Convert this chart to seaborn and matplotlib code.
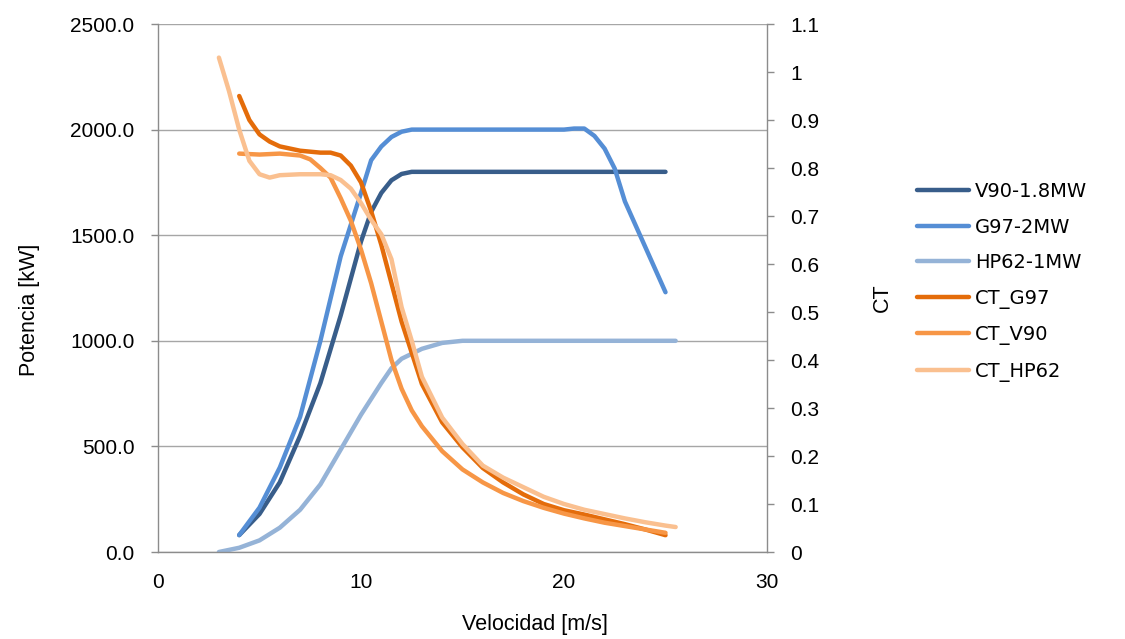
import numpy as np
import pandas as pd
import matplotlib
matplotlib.use("Agg")
import matplotlib.pyplot as plt
import seaborn as sns

# DATA
v90_speed = [4, 5, 6, 7, 8, 9, 10, 10.5, 11, 11.5, 12, 12.5, 13, 14, 15, 16, 17, 18, 19, 20, 21, 22, 23,
             24, 25]
v90_power = [80, 180, 330, 550, 800, 1120, 1470, 1610, 1700, 1760, 1790, 1800, 1800, 1800, 1800, 1800,
             1800, 1800, 1800, 1800, 1800, 1800, 1800, 1800, 1800]

g97_speed = [4, 5, 6, 7, 8, 9, 10, 10.5, 11, 11.5, 12, 12.5, 13, 14, 15, 16, 17, 18, 19, 20, 20.5, 21,
             21.5, 22, 22.5, 23, 24, 25]
g97_power = [80, 210, 400, 640, 1000, 1400, 1700, 1855, 1920, 1965, 1990, 2000, 2000, 2000, 2000, 2000,
             2000, 2000, 2000, 2000, 2005, 2005, 1970, 1910, 1815, 1660, 1445, 1230]

hp62_speed = [3, 4, 5, 6, 7, 8, 9, 10, 11, 11.5, 12, 13, 14, 15, 16, 17, 18, 19, 20, 21, 22, 23, 24,
              25, 25.5]
hp62_power = [0, 20, 55, 115, 200, 320, 485, 650, 800, 870, 915, 962, 990, 1000, 1000, 1000, 1000,
              1000, 1000, 1000, 1000, 1000, 1000, 1000, 1000]

ct_g97_speed = [4, 4.5, 5, 5.5, 6, 7, 8, 8.5, 9, 9.5, 10, 10.5, 11, 11.5, 12, 12.5, 13, 14, 15, 16, 17,
                18, 19, 20, 21, 22, 23, 24, 25]
ct_g97 = [0.95, 0.90, 0.87, 0.855, 0.845, 0.836, 0.832, 0.832, 0.826, 0.805, 0.77, 0.71, 0.64, 0.56,
          0.48, 0.415, 0.35, 0.27, 0.218, 0.175, 0.145, 0.12, 0.10, 0.087, 0.078, 0.068, 0.058, 0.047, 0.035]

ct_v90_speed = [4, 5, 6, 7, 7.5, 8, 8.5, 9, 9.5, 10, 10.5, 11, 11.5, 12, 12.5, 13, 14, 15, 16, 17, 18,
                19, 20, 21, 22, 23, 24, 25]
ct_v90 = [0.83, 0.828, 0.83, 0.826, 0.818, 0.80, 0.78, 0.737, 0.69, 0.63, 0.56, 0.48, 0.40, 0.34, 0.295,
          0.262, 0.21, 0.172, 0.145, 0.123, 0.106, 0.092, 0.08, 0.07, 0.061, 0.054, 0.047, 0.04]

ct_hp62_speed = [3, 3.5, 4, 4.5, 5, 5.5, 6, 7, 8, 8.5, 9, 9.5, 10, 10.5, 11, 11.5, 12, 12.5, 13, 14, 15,
                 16, 17, 18, 19, 20, 21, 22, 23, 24, 25, 25.5]
ct_hp62 = [1.03, 0.96, 0.88, 0.815, 0.787, 0.78, 0.785, 0.787, 0.787, 0.785, 0.775, 0.757, 0.727, 0.692,
           0.662, 0.61, 0.51, 0.44, 0.365, 0.28, 0.225, 0.18, 0.155, 0.135, 0.115, 0.10, 0.088, 0.079,
           0.07, 0.062, 0.055, 0.052]

power_labels = ['V90-1.8MW', 'G97-2MW', 'HP62-1MW']
ct_labels = ['CT_G97', 'CT_V90', 'CT_HP62']
power_colors = ['#385d8a', '#558ed5', '#95b3d7']
ct_colors = ['#e46c0a', '#f79646', '#fac090']

# STYLE
sns.set_style('white')
plt.rcParams['font.family'] = ['Liberation Sans', 'DejaVu Sans']
axis_gray = '#8c8c8c'

fig = plt.figure(figsize=(11.25, 6.39), dpi=100)
ax = fig.add_axes([158 / 1125, 87 / 639, 609 / 1125, 528 / 639])
ax2 = ax.twinx()

# POWER CURVES (left axis)
power_sets = [(v90_speed, v90_power), (g97_speed, g97_power), (hp62_speed, hp62_power)]
for (xs, ys), lab, col in zip(power_sets, power_labels, power_colors):
    sns.lineplot(x=xs, y=ys, ax=ax, color=col, lw=3.2, label=lab,
                 solid_capstyle='round', solid_joinstyle='round')

# THRUST COEFFICIENT CURVES (right axis)
ct_sets = [(ct_g97_speed, ct_g97), (ct_v90_speed, ct_v90), (ct_hp62_speed, ct_hp62)]
for (xs, ys), lab, col in zip(ct_sets, ct_labels, ct_colors):
    sns.lineplot(x=xs, y=ys, ax=ax2, color=col, lw=3.2, label=lab,
                 solid_capstyle='round', solid_joinstyle='round')

# AXES
ax.set_xlim(0, 30)
ax.set_ylim(0, 2500)
ax2.set_ylim(0, 1.1)
ax.set_xticks([0, 10, 20, 30])
ax.set_yticks(np.arange(0, 2501, 500))
ax.set_yticklabels([f'{v:.1f}' for v in np.arange(0, 2501, 500)])
ct_ticks = np.round(np.arange(0, 1.101, 0.1), 1)
ax2.set_yticks(ct_ticks)
ax2.set_yticklabels([f'{v:g}' for v in ct_ticks])

ax.yaxis.grid(True, color='#a6a6a6', lw=1)
ax.xaxis.grid(False)
ax.set_axisbelow(True)

for a in (ax, ax2):
    a.spines['top'].set_visible(False)
    for s in ('left', 'right', 'bottom'):
        a.spines[s].set_color(axis_gray)
        a.spines[s].set_linewidth(1)
ax.spines['right'].set_visible(False)
ax2.spines['left'].set_visible(False)
ax2.spines['bottom'].set_visible(False)

ax.tick_params(axis='both', which='both', direction='out', length=5, width=1, color=axis_gray,
               labelsize=15, labelcolor='black')
ax.tick_params(axis='y', pad=12)
ax.tick_params(axis='x', pad=10)
ax2.tick_params(axis='y', direction='out', length=5, width=1, color=axis_gray,
                labelsize=15, labelcolor='black', pad=12)

ax.set_xlabel('Velocidad [m/s]', fontsize=15.5, color='black')
ax.xaxis.set_label_coords((535 - 158) / 609, -0.118)
ax.set_ylabel('Potencia [kW]', fontsize=15.5, color='black')
ax.yaxis.set_label_coords(-0.193, 0.458)
ax2.set_ylabel('CT', fontsize=15.5, color='black')
ax2.yaxis.set_label_coords(1.172, 0.481)

# LEGEND
ax.get_legend().remove()
ax2.get_legend().remove()
h1, l1 = ax.get_legend_handles_labels()
h2, l2 = ax2.get_legend_handles_labels()
fig.legend(h1 + h2, l1 + l2, loc='center left', bbox_to_anchor=(0.815, 0.559), frameon=False,
           prop={'family': 'DejaVu Sans', 'size': 14}, handlelength=2.7, handletextpad=0.3,
           labelspacing=0.85, borderpad=0, borderaxespad=0, labelcolor='black')

fig.savefig('out.png', dpi=100)
